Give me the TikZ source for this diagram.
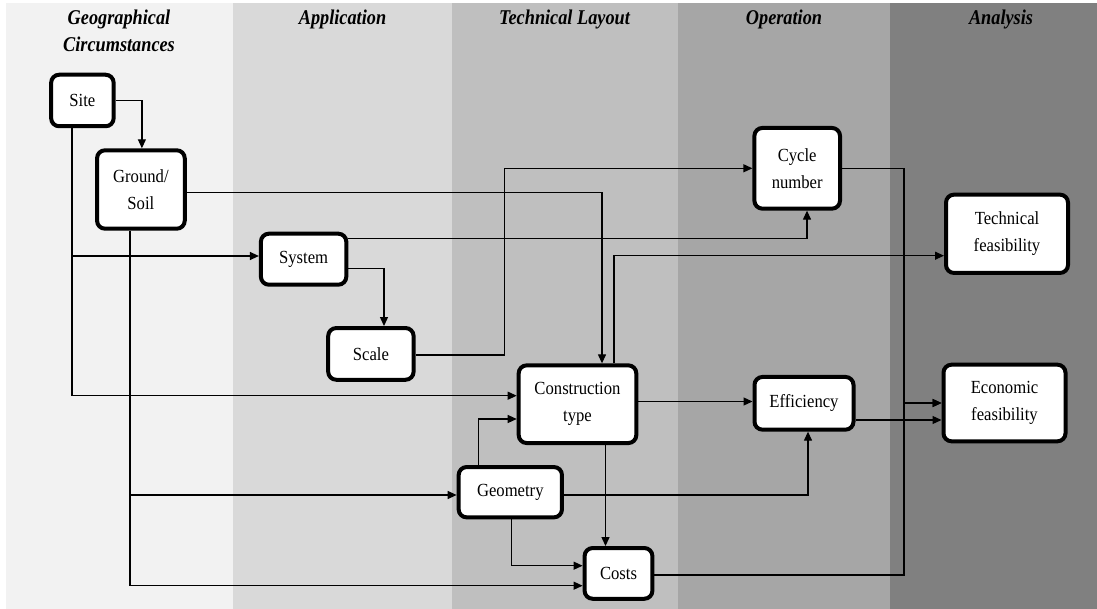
\documentclass[tikz,border=0pt]{standalone}
\usepackage{fontspec}
\setmainfont{Liberation Serif}[FakeStretch=0.9]
\newfontfamily\hdrfont{Liberation Serif}[FakeStretch=0.87]
\usetikzlibrary{arrows.meta}
\definecolor{bandA}{HTML}{F2F2F2}
\definecolor{bandB}{HTML}{D9D9D9}
\definecolor{bandC}{HTML}{BFBFBF}
\definecolor{bandD}{HTML}{A6A6A6}
\definecolor{bandE}{HTML}{808080}
\tikzset{
  box/.style={draw=black, line width=4pt, rounded corners=8pt, fill=white,
    inner sep=0pt, align=center, font=\fontsize{18.5}{27}\selectfont},
  hdr/.style={anchor=base, align=center, inner sep=0pt,
    font=\hdrfont\bfseries\itshape\fontsize{21}{26.7}\selectfont},
  conn/.style={line width=1.2pt, -{Triangle[length=9pt,width=8pt]}}
}
\begin{document}
\begin{tikzpicture}[x=1pt,y=-1pt]
\useasboundingbox (0,0) rectangle (1097,609);
\fill[white] (0,0) rectangle (1097,609);
% bands
\fill[bandA] (6.3,3.3) rectangle (233.3,609);
\fill[bandB] (233.3,3.3) rectangle (452.3,609);
\fill[bandC] (452.3,3.3) rectangle (677.8,609);
\fill[bandD] (677.8,3.3) rectangle (890,609);
\fill[bandE] (890,3.3) rectangle (1097,609);
% headers
\node[hdr] (h1) at (119,51.7) {Geographical\\Circumstances};
\node[hdr] (h2) at (342.5,25) {Application};
\node[hdr] (h3) at (564.5,25) {Technical Layout};
\node[hdr] (h4) at (784,25) {Operation};
\node[hdr] (h5) at (1001,25) {Analysis};
% nodes
\node[box, minimum width=62.5pt, minimum height=51.5pt] (site) at (82.4,100.5) {Site};
\node[box, minimum width=87.7pt, minimum height=78.4pt] (ground) at (140.9,189.5) {Ground/\\Soil};
\node[box, minimum width=85.4pt, minimum height=51pt] (system) at (303.6,259.2) {System};
\node[box, minimum width=85.4pt, minimum height=51.7pt] (scale) at (370.9,353.9) {Scale};
\node[box, minimum width=117.6pt, minimum height=77.7pt] (construction) at (577.5,404.2) {Construction\\type};
\node[box, minimum width=103.3pt, minimum height=50.3pt] (geometry) at (510.3,492.2) {Geometry};
\node[box, minimum width=67.8pt, minimum height=50.7pt] (costs) at (618.5,573.4) {Costs};
\node[box, minimum width=85.6pt, minimum height=80.7pt] (cycle) at (797.2,168.3) {Cycle\\number};
\node[box, minimum width=99pt, minimum height=52.7pt] (efficiency) at (804,403.3) {Efficiency};
\node[box, minimum width=122pt, minimum height=78.3pt] (technical) at (1007,233.8) {Technical\\feasibility};
\node[box, minimum width=122pt, minimum height=76.6pt] (economic) at (1004.5,403) {Economic\\feasibility};
% connectors
\draw[conn] (site.east) -| ([xshift=1pt]ground.north);
\draw[conn] ([xshift=-10.5pt]site.south) |- ([yshift=3.2pt]system.west);
\draw[conn] ([xshift=-10.5pt]site.south) |- ([yshift=8.5pt]construction.west);
\draw[conn] ([yshift=-3pt]ground.east) -| ([xshift=24.5pt]construction.north);
\draw[conn] ([xshift=-10.9pt]ground.south) |- ([yshift=-2.8pt]geometry.west);
\draw[conn] ([xshift=-10.9pt]ground.south) |- ([yshift=-12.3pt]costs.west);
\draw[conn] ([yshift=20.9pt]system.east) -| ([xshift=9.8pt]cycle.south);
\draw[conn] ([yshift=-9.1pt]system.east) -| ([xshift=13.1pt]scale.north);
\draw[conn] ([yshift=-1pt]scale.east) -| ([xshift=-248pt]cycle.west) -- (cycle.west);
\draw[conn] ([xshift=36.5pt]construction.north) |- ([yshift=-21.9pt]technical.west);
\draw[conn] ([yshift=2.7pt]construction.east) -- ([yshift=2.7pt]construction.east -| efficiency.west);
\draw[conn] ([xshift=28pt]construction.south) -- ([xshift=28pt]construction.south |- costs.north);
\draw[conn] ([xshift=-31.5pt]geometry.north) |- ([yshift=-14.8pt]construction.west);
\draw[conn] ([yshift=-2.8pt]geometry.east) -| ([xshift=4pt]efficiency.south);
\draw[conn] ([xshift=1pt]geometry.south) |- ([yshift=7.7pt]costs.west);
\draw[conn] (cycle.east) -| ([xshift=-37.5pt]economic.west) -- (economic.west);
\draw[conn] ([yshift=-1.6pt]costs.east) -| ([xshift=-37.5pt]economic.west) -- (economic.west);
\draw[conn] ([yshift=-16.7pt]efficiency.east) -- ([yshift=-16.7pt]efficiency.east -| economic.west);
\end{tikzpicture}
\end{document}
